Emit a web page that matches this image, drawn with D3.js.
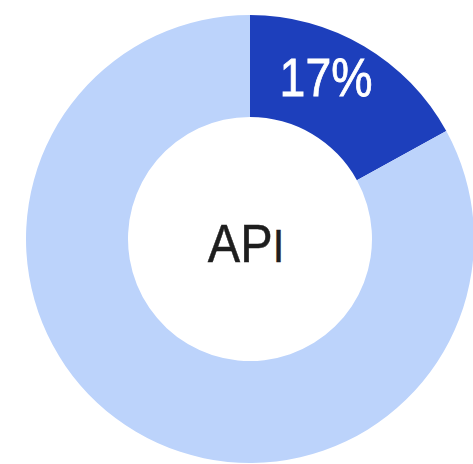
<!DOCTYPE html>
<html>
<head>
<meta charset="utf-8">
<script src="https://cdn.jsdelivr.net/npm/d3@7"></script>
<style>
  html, body { margin: 0; padding: 0; background: #ffffff; }
  svg { display: block; }
</style>
</head>
<body>
<script>
// Share of the API slice against the rest
const categories = ["API", "Other"];
const shares = [17, 83];
const colors = ["#1d3fbc", "#bcd3fb"];
const centerLabel = "API";

const width = 473, height = 464;
const cx = 250, cy = 239;
const outerR = 224, innerR = 122;

const svg = d3.select("body").append("svg")
  .attr("width", width)
  .attr("height", height);

const g = svg.append("g").attr("transform", `translate(${cx},${cy})`);

const pie = d3.pie().sort(null).value(d => d.value);
const arcs = pie(categories.map((c, i) => ({ name: c, value: shares[i] })));

const arc = d3.arc().innerRadius(innerR).outerRadius(outerR);

g.selectAll("path.slice")
  .data(arcs)
  .join("path")
  .attr("class", "slice")
  .attr("d", arc)
  .attr("fill", (d, i) => colors[i]);

// Percentage label on the highlighted slice
const c0 = arc.centroid(arcs[0]);
g.append("text")
  .attr("transform", `translate(${c0[0] - 12},${c0[1] + 6}) scale(0.86,1)`)
  .attr("text-anchor", "middle")
  .attr("font-family", "Liberation Sans, Arial, sans-serif")
  .attr("font-size", 54)
  .attr("fill", "#ffffff")
  .attr("stroke", "#ffffff")
  .attr("stroke-width", 0.8)
  .text(shares[0] + "%");

// Centre caption
const cap = g.append("text")
  .attr("transform", `translate(-4,23) scale(0.9,1)`)
  .attr("text-anchor", "middle")
  .attr("font-family", "Liberation Sans, Arial, sans-serif")
  .attr("font-size", 54)
  .attr("fill", "#1e1e1e")
  .attr("stroke", "#1e1e1e")
  .attr("stroke-width", 0.5);
cap.append("tspan").text(centerLabel.slice(0, 2));
cap.append("tspan").attr("font-size", 46).text(centerLabel.slice(2));
</script>
</body>
</html>
